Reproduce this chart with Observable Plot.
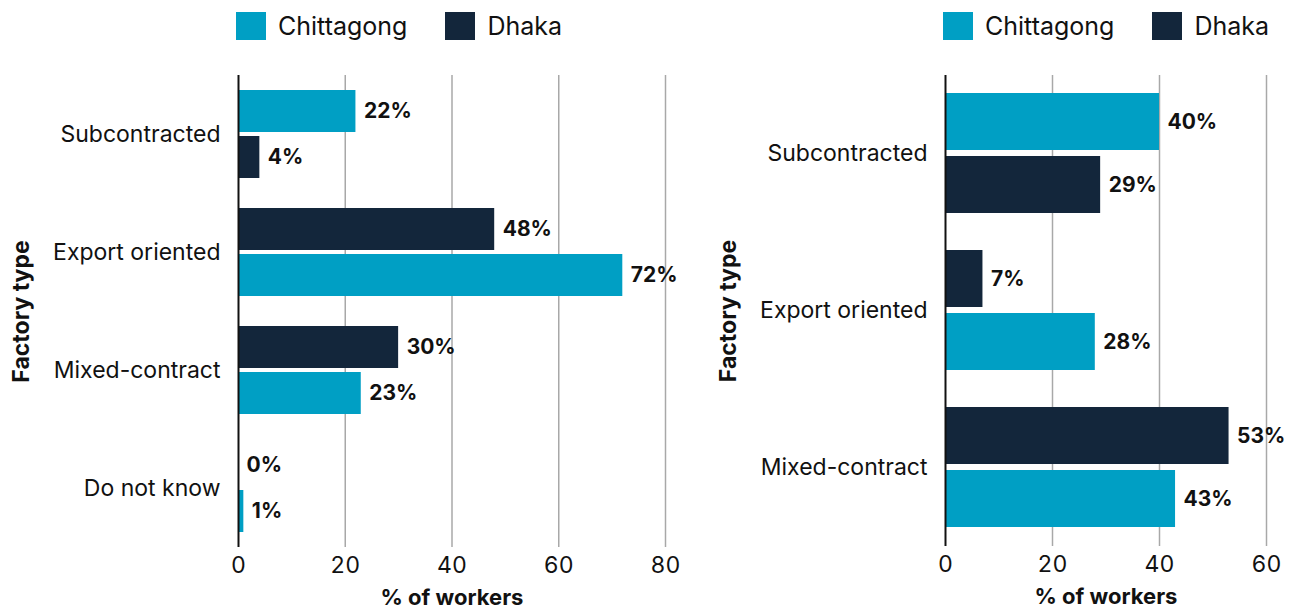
<!DOCTYPE html>
<html><head><meta charset="utf-8">
<script src="https://cdn.jsdelivr.net/npm/d3@7"></script>
<script src="https://cdn.jsdelivr.net/npm/@observablehq/plot@0.6"></script>
<style>
body{margin:0;background:#fff;font-family:Inter, "Noto Sans", sans-serif;}
#wrap{position:relative;width:1290px;height:612px;overflow:hidden;background:#fff;}
.panel{position:absolute;top:0;height:612px;}
.legend{position:absolute;top:12px;display:flex;align-items:center;font-size:25px;color:#111;line-height:28px;}
.item{display:flex;align-items:center;margin-right:38px;}
.sw{display:inline-block;width:30px;height:28px;margin-right:12px;}
.panel svg{position:absolute;top:50px;left:0;}
g[aria-label="x-axis label"] text{font-weight:700;font-size:22px;}
g[aria-label="fy-axis label"] text{font-weight:700;font-size:23px;}
</style>
</head><body>
<div id="wrap">
  <div class="panel" id="left" style="left:0;width:690px;"></div>
  <div class="panel" id="right" style="left:700px;width:590px;"></div>
</div>
<script>
const cities = ["Chittagong", "Dhaka"];
const colors = ["#009fc4", "#13263b"];

// Left panel
const categoriesA = ["Subcontracted", "Export oriented", "Mixed-contract", "Do not know"];
const chittagongA = [22, 72, 23, 1];
const dhakaA = [4, 48, 30, 0];
const topCityA = ["Chittagong", "Dhaka", "Dhaka", "Dhaka"];
const xTicksA = [0, 20, 40, 60, 80];

// Right panel
const categoriesB = ["Subcontracted", "Export oriented", "Mixed-contract"];
const chittagongB = [40, 28, 43];
const dhakaB = [29, 7, 53];
const topCityB = ["Chittagong", "Dhaka", "Dhaka"];
const xTicksB = [0, 20, 40, 60];

function rows(cats, chit, dhaka, topCity) {
  const out = [];
  cats.forEach((c, i) => {
    out.push({category: c, city: "Chittagong", value: chit[i], slot: topCity[i] === "Chittagong" ? "top" : "bottom"});
    out.push({category: c, city: "Dhaka", value: dhaka[i], slot: topCity[i] === "Dhaka" ? "top" : "bottom"});
  });
  return out;
}

function legend(left) {
  const d = document.createElement("div");
  d.className = "legend";
  d.style.left = left + "px";
  cities.forEach((c, i) => {
    const it = document.createElement("div");
    it.className = "item";
    const sw = document.createElement("span");
    sw.className = "sw";
    sw.style.background = colors[i];
    const t = document.createElement("span");
    t.textContent = c;
    it.appendChild(sw); it.appendChild(t);
    d.appendChild(it);
  });
  return d;
}

function chart(cats, data, ticks, o) {
  return Plot.plot({
    width: o.width, height: 562,
    marginTop: 24, marginBottom: 65, marginLeft: o.ml, marginRight: o.mr,
    style: {fontFamily: "Inter, 'Noto Sans', sans-serif", fontSize: "23px", color: "#111", background: "transparent", overflow: "visible"},
    x: {domain: [ticks[0], ticks[ticks.length - 1]], ticks: ticks, tickSize: 0, tickPadding: 9, label: "% of workers", labelAnchor: "center", labelOffset: 57, labelArrow: false},
    y: {domain: ["top", "bottom"], paddingInner: o.pi, paddingOuter: o.po, axis: null},
    fy: {domain: cats, padding: 0, axis: "left", tickSize: 0, tickPadding: 18, label: "Factory type", labelAnchor: "center", labelOffset: 226},
    color: {domain: cities, range: colors},
    marks: [
      Plot.ruleX(ticks.slice(1), {stroke: "#a8a8a8", strokeWidth: 1.5}),
      Plot.barX(data, {x: "value", y: "slot", fy: "category", fill: "city"}),
      Plot.ruleX([0], {stroke: "#111", strokeWidth: 2}),
      Plot.text(data, {x: "value", y: "slot", fy: "category", text: d => d.value + "%", textAnchor: "start", dx: 8, fontWeight: "bold", fontSize: 21, fill: "#111"})
    ]
  });
}

const L = document.getElementById("left");
L.appendChild(legend(236));
L.appendChild(chart(categoriesA, rows(categoriesA, chittagongA, dhakaA, topCityA), xTicksA, {width: 690, ml: 238, mr: 25, pi: 0.085, po: 0.31}));

const R = document.getElementById("right");
R.appendChild(legend(243));
R.appendChild(chart(categoriesB, rows(categoriesB, chittagongB, dhakaB, topCityB), xTicksB, {width: 590, ml: 245, mr: 24, pi: 0.094, po: 0.275}));
</script>
</body></html>
